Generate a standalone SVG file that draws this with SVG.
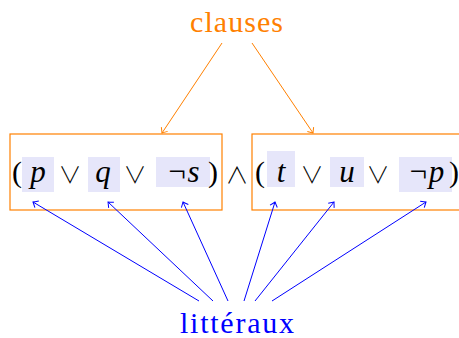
<svg xmlns="http://www.w3.org/2000/svg" width="459" height="338" viewBox="0 0 459 338">
  <defs>
    <style>
      .lbl { font-family: "Liberation Serif", "DejaVu Serif", serif; font-size: 30px; }
      .var { font-family: "Liberation Serif", "DejaVu Serif", serif; font-size: 31px; font-style: italic; fill: #000; text-anchor: middle; }
      .op { font-family: "Noto Sans CJK SC", "DejaVu Serif", serif; font-weight: 300; font-size: 23px; fill: #000; text-anchor: middle; }
      .par { font-family: "Liberation Serif", "DejaVu Serif", serif; font-size: 30px; fill: #000; text-anchor: middle; }
      .hl { fill: #e6e6fa; }
      .box { fill: none; stroke: #ff8000; stroke-width: 1.2; }
      .oa { stroke: #ff8000; stroke-width: 1; fill: none; marker-end: url(#ao); }
      .ba { stroke: #0000ff; stroke-width: 1; fill: none; marker-end: url(#ab); }
    </style>
    <marker id="ao" markerUnits="userSpaceOnUse" viewBox="-6 -5 7 10" refX="0" refY="0" markerWidth="7" markerHeight="10" orient="auto">
      <path d="M -4.5 -3.8 Q -1 -0.8 0 0 Q -1 0.8 -4.5 3.8" fill="none" stroke="#ff8000" stroke-width="1"/>
    </marker>
    <marker id="ab" markerUnits="userSpaceOnUse" viewBox="-6 -5 7 10" refX="0" refY="0" markerWidth="7" markerHeight="10" orient="auto">
      <path d="M -4.5 -3.8 Q -1 -0.8 0 0 Q -1 0.8 -4.5 3.8" fill="none" stroke="#0000ff" stroke-width="1"/>
    </marker>
  </defs>

  <g id="clauses">
    <text class="lbl" x="190" y="32" fill="#ff8000" textLength="93" lengthAdjust="spacing">clauses</text>
  </g>

  <g id="litteraux">
    <text class="lbl" x="180" y="333" fill="#0000ff" textLength="114" lengthAdjust="spacing">littéraux</text>
  </g>

  <g id="clause1">
    <rect class="box" x="10" y="134" width="212" height="76"/>
  </g>
  <g id="clause2">
    <rect class="box" x="252" y="134" width="215" height="76"/>
  </g>

  <g id="lit-p">
    <rect class="hl" x="22" y="157" width="32" height="35"/>
    <text class="var" x="38" y="182">p</text>
  </g>
  <g id="lit-q">
    <rect class="hl" x="88" y="157" width="32" height="35"/>
    <text class="var" x="103" y="182">q</text>
  </g>
  <g id="lit-nots">
    <rect class="hl" x="156" y="157" width="54" height="30"/>
    <text class="var" x="183" y="182">¬s</text>
  </g>
  <g id="lit-t">
    <rect class="hl" x="267" y="151" width="28" height="36"/>
    <text class="var" x="281" y="182">t</text>
  </g>
  <g id="lit-u">
    <rect class="hl" x="330" y="157" width="34" height="30"/>
    <text class="var" x="347" y="182">u</text>
  </g>
  <g id="lit-notp">
    <rect class="hl" x="399" y="157" width="53" height="35"/>
    <text class="var" x="426" y="182">¬p</text>
  </g>

  <g id="formula">
    <text class="par" x="17" y="182">(</text>
    <text class="op" x="70" y="183">∨</text>
    <text class="op" x="135" y="183">∨</text>
    <text class="par" x="213" y="182">)</text>
    <text class="op" x="237" y="183">∧</text>
    <text class="par" x="260" y="182">(</text>
    <text class="op" x="312" y="183">∨</text>
    <text class="op" x="378" y="183">∨</text>
    <text class="par" x="454" y="182">)</text>
  </g>

  <g id="connectors">
    <line class="oa" x1="222" y1="43" x2="162" y2="133"/>
    <line class="oa" x1="252" y1="43" x2="313" y2="133"/>
    <line class="ba" x1="199" y1="301" x2="33" y2="202"/>
    <line class="ba" x1="213" y1="301" x2="108" y2="202"/>
    <line class="ba" x1="228" y1="301" x2="183" y2="202"/>
    <line class="ba" x1="244" y1="301" x2="275" y2="202"/>
    <line class="ba" x1="255" y1="301" x2="334" y2="202"/>
    <line class="ba" x1="272" y1="301" x2="426" y2="202"/>
  </g>
</svg>
